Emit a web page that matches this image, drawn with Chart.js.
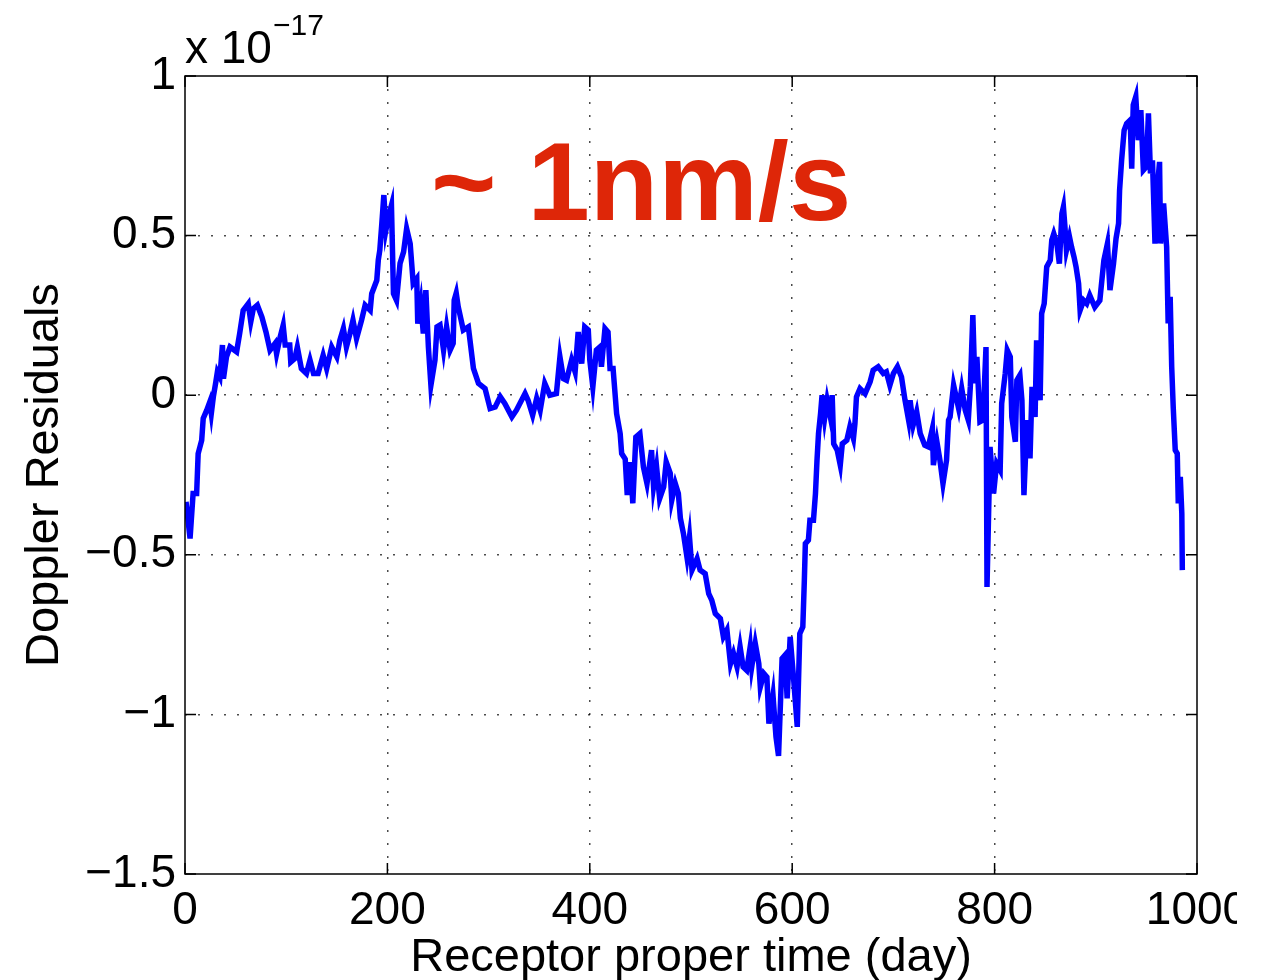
<!DOCTYPE html>
<html>
<head>
<meta charset="utf-8">
<script src="https://cdn.jsdelivr.net/npm/chart.js@4/dist/chart.umd.min.js"></script>
<style>
  html, body { margin: 0; padding: 0; background: #fff; overflow: hidden; }
  #wrap { width: 1237px; height: 980px; overflow: hidden; }
</style>
</head>
<body>
<div id="wrap"><canvas id="myPlot" width="1271" height="980"></canvas></div>
<script>
const xTicks = [0, 200, 400, 600, 800, 1000];
const yTicks = [-1.5, -1, -0.5, 0, 0.5, 1];

// day, residual (x 1e-17)
const days = [
  1, 5, 8, 11.5, 13, 16.5, 18, 21.5, 24.5, 26,
  28, 30.5, 32, 34.5, 37, 38, 41, 44.5, 51, 54,
  57.5, 62.5, 65, 67.5, 71.5, 76, 80, 84, 89, 90.5,
  94, 97, 99, 103.5, 104.5, 108.5, 111, 115, 120, 123.5,
  127, 131.5, 136.5, 140, 145, 150, 153, 156.5, 159.5, 163,
  166, 169.5, 174.5, 178, 183, 184.5, 189.5, 191, 192.5, 194.5,
  196.5, 198.5, 201, 204, 206, 209, 212.5, 216, 219, 222.5,
  225.5, 229, 230, 233, 235.5, 238, 240.5, 243, 247, 249,
  252, 255.5, 258.5, 262, 265, 266, 268, 270, 275, 280,
  285, 290, 296.5, 301.5, 306.5, 311.5, 316, 323, 327.5, 336,
  339, 343.5, 347.5, 351, 355.5, 360.5, 367, 370.5, 374, 377,
  382, 385.5, 388.5, 392, 395, 398.5, 400, 403, 406.5, 410,
  411.5, 415, 418, 420, 423,
  426.5, 430, 431.5, 435, 437, 440, 442.5, 445.5, 449.5, 453,
  456.5, 461, 463, 466, 469, 473, 475.5, 479.5, 481, 484.5,
  487.5, 489.5, 492.5, 496, 498.5, 501, 506, 509, 514, 517.5,
  520.5, 524, 529, 532, 535.5, 539, 542, 545.5, 548.5, 551.5,
  555, 558.5, 560, 563.5, 567, 568.5, 572, 575, 577, 581,
  584, 586.5, 590, 593, 595, 598, 601.5, 605, 607.5, 610.5,
  612, 613, 616, 617.5, 621, 623, 624.5, 626, 628, 629.5,
  632, 634.5, 638, 639.5, 641, 644.5, 647.5, 649.5, 654, 657,
  660.5, 662, 663.5, 667, 672, 677, 680, 685, 690, 693,
  696.5, 700, 704, 708, 711.5, 715, 716.5, 719.5, 723, 726.5,
  731, 734.5, 738.5, 739.5, 743, 746, 749, 752.5, 754.5, 756,
  759.5, 764.5, 767.5, 771, 774, 776, 778.5, 780.5, 782.5, 785.5,
  788.5, 791.5, 792.5, 795.5, 799, 802, 805.5, 807, 810.5, 812.5,
  815.5, 817, 820.5, 822, 825, 827, 829, 832, 835, 837,
  840, 841.5, 845, 846.5, 849, 851.5, 855, 856.5, 858.5, 861.5,
  864, 866.5, 868, 869.5, 871, 874, 876, 878.5, 880.5, 883,
  884.5, 888, 891, 894, 899, 904, 906, 908, 911.5, 914,
  917.5, 920, 922.5, 923.5, 925.5, 928, 930.5, 934, 935.5, 937,
  939.5, 942, 944.5, 947, 950, 952, 954, 956, 958.5, 960,
  963, 964, 967, 970, 971.5, 973.5, 975, 976.5, 978.5, 980.5,
  981.5, 983.5, 985, 985.5
];
const residuals = [
  -0.334, -0.449, -0.308, -0.308, -0.183, -0.141, -0.073, -0.047, -0.021, -0.057,
  -0.005, 0.042, 0.073, 0.057, 0.157, 0.052, 0.12, 0.151, 0.136, 0.193,
  0.266, 0.287, 0.23, 0.271, 0.282, 0.245, 0.198, 0.141, 0.162, 0.130,
  0.182, 0.219, 0.157, 0.157, 0.104, 0.115, 0.151, 0.083, 0.068, 0.110,
  0.068, 0.068, 0.125, 0.083, 0.151, 0.12, 0.172, 0.209, 0.151, 0.193,
  0.235, 0.177, 0.235, 0.282, 0.266, 0.318, 0.360, 0.423, 0.454, 0.538,
  0.627, 0.517, 0.559, 0.595, 0.318, 0.297, 0.413, 0.449, 0.522, 0.475,
  0.350, 0.365, 0.224, 0.287, 0.193, 0.329, 0.151, 0.031, 0.110, 0.214,
  0.220, 0.141, 0.214, 0.141, 0.162, 0.298, 0.32, 0.277, 0.204, 0.214,
  0.084, 0.037, 0.021, -0.042, -0.037, -0.005, -0.026, -0.068, -0.047, 0.005,
  -0.016, -0.063, -0.010, -0.047, 0.037, 0.0, 0.005, 0.120, 0.052, 0.047,
  0.110, 0.073, 0.198, 0.099, 0.214, 0.204, 0.110, 0.026, 0.141, 0.151,
  0.089, 0.209, 0.198, 0.084, 0.084,
  -0.058, -0.120, -0.183, -0.200, -0.313, -0.210, -0.339, -0.131, -0.120, -0.225,
  -0.277, -0.172, -0.287, -0.225, -0.324, -0.287, -0.209, -0.245, -0.329, -0.277,
  -0.308, -0.386, -0.433, -0.507, -0.444, -0.548, -0.512, -0.548, -0.559, -0.622,
  -0.642, -0.684, -0.700, -0.757, -0.736, -0.841, -0.809, -0.851, -0.788, -0.851,
  -0.862, -0.788, -0.851, -0.778, -0.841, -0.914, -0.872, -0.883, -1.029, -0.940,
  -1.071, -1.13, -0.825, -0.814, -0.950, -0.757, -0.893, -1.039, -0.747, -0.726,
  -0.580, -0.465, -0.454, -0.392, -0.392, -0.308, -0.204, -0.120, -0.058, 0.0,
  -0.073, -0.016, -0.073, 0.0, -0.152, -0.172, -0.219, -0.152, -0.141, -0.099,
  -0.136, -0.089, -0.005, 0.021, 0.005, 0.042, 0.078, 0.089, 0.068, 0.073,
  0.031, 0.068, 0.089, 0.057, -0.016, -0.078, -0.016, -0.094, -0.052, -0.120,
  -0.157, -0.162, -0.105, -0.219, -0.146, -0.204, -0.277, -0.204, -0.078, -0.068,
  0.031, -0.042, 0.021, -0.047, -0.078, 0.026, 0.251, 0.037, 0.120, -0.083,
  -0.078, 0.151, -0.601, -0.162, -0.308, -0.214, -0.235, -0.026, 0.068, 0.141,
  0.120, -0.068, -0.146, 0.047, 0.063, -0.016, -0.313, -0.078, -0.198, 0.026,
  -0.068, 0.172, -0.016, 0.256, 0.287, 0.402, 0.423, 0.486, 0.506, 0.475,
  0.412, 0.569, 0.590, 0.528, 0.454, 0.496, 0.465, 0.433, 0.402, 0.350,
  0.266, 0.297, 0.287, 0.313, 0.276, 0.297, 0.360, 0.423, 0.475, 0.329,
  0.412, 0.491, 0.538, 0.642, 0.736, 0.830, 0.851, 0.862, 0.710, 0.909,
  0.935, 0.799, 0.893, 0.705, 0.716, 0.883, 0.695, 0.736, 0.475, 0.622,
  0.731, 0.475, 0.601, 0.465, 0.225, 0.308, 0.089, -0.037, -0.172, -0.183,
  -0.339, -0.256, -0.371, -0.548
];

const FONT = '"Liberation Sans", Arial, Helvetica, sans-serif';

function fmt(v) {
  return v < 0 ? '\u2212' + Math.abs(v) : String(v);
}

function gridColor(ticks) {
  return (ctx) => {
    const v = ctx.tick ? ctx.tick.value : null;
    if (v === ticks[0] || v === ticks[ticks.length - 1]) return 'rgba(0,0,0,0)';
    return 'rgba(0,0,0,0.7)';
  };
}

// box, inward tick marks, exponent label and the red note
const matlabFrame = {
  id: 'matlabFrame',
  afterDraw(chart) {
    const {ctx, chartArea: a, scales} = chart;
    ctx.save();
    ctx.strokeStyle = '#000';
    ctx.lineWidth = 1.5;
    ctx.strokeRect(a.left, a.top, a.right - a.left, a.bottom - a.top);
    const tl = 11;
    ctx.beginPath();
    xTicks.forEach(v => {
      const x = scales.x.getPixelForValue(v);
      ctx.moveTo(x, a.bottom); ctx.lineTo(x, a.bottom - tl);
      ctx.moveTo(x, a.top); ctx.lineTo(x, a.top + tl);
    });
    yTicks.forEach(v => {
      const y = scales.y.getPixelForValue(v);
      ctx.moveTo(a.left, y); ctx.lineTo(a.left + tl, y);
      ctx.moveTo(a.right, y); ctx.lineTo(a.right - tl, y);
    });
    ctx.stroke();

    ctx.fillStyle = '#000';
    ctx.textAlign = 'left';
    ctx.textBaseline = 'alphabetic';
    ctx.font = '46px ' + FONT;
    ctx.fillText('x 10', a.left, 63);
    ctx.font = '30px ' + FONT;
    ctx.fillText('\u221217', 273, 35);

    ctx.fillStyle = 'rgb(222,38,8)';
    ctx.font = 'bold 112px ' + FONT;
    ctx.fillText('~ 1nm/s', 431, 220);
    ctx.restore();
  }
};

new Chart('myPlot', {
  type: 'line',
  data: {
    datasets: [{
      data: days.map((d, i) => ({x: d, y: residuals[i]})),
      borderColor: '#0000ff',
      borderWidth: 5.5,
      pointRadius: 0,
      tension: 0,
      fill: false
    }]
  },
  options: {
    responsive: false,
    animation: false,
    devicePixelRatio: 1,
    layout: {padding: {top: 76, right: 74, left: 0, bottom: 0}},
    plugins: {legend: {display: false}, tooltip: {enabled: false}},
    scales: {
      x: {
        type: 'linear',
        min: 0, max: 1000,
        afterBuildTicks: s => { s.ticks = xTicks.map(v => ({value: v})); },
        afterFit: s => { s.height = 106; },
        ticks: {color: '#000', font: {family: FONT, size: 46}, padding: 10, maxRotation: 0, callback: v => fmt(v)},
        grid: {color: gridColor(xTicks), lineWidth: 1.5, drawTicks: false},
        border: {display: false, dash: [2, 11]},
        title: {display: true, text: 'Receptor proper time (day)', color: '#000',
                font: {family: FONT, size: 47}, padding: {top: 0, bottom: -6}}
      },
      y: {
        min: -1.5, max: 1,
        afterBuildTicks: s => { s.ticks = yTicks.map(v => ({value: v})); },
        afterFit: s => { s.width = 185; },
        ticks: {color: '#000', font: {family: FONT, size: 46}, padding: 9, callback: v => fmt(v)},
        grid: {color: gridColor(yTicks), lineWidth: 1.5, drawTicks: false},
        border: {display: false, dash: [2, 11]},
        title: {display: true, text: 'Doppler Residuals', color: '#000',
                font: {family: FONT, size: 47}, padding: {top: 17, bottom: 0}}
      }
    }
  },
  plugins: [matlabFrame]
});
</script>
</body>
</html>
